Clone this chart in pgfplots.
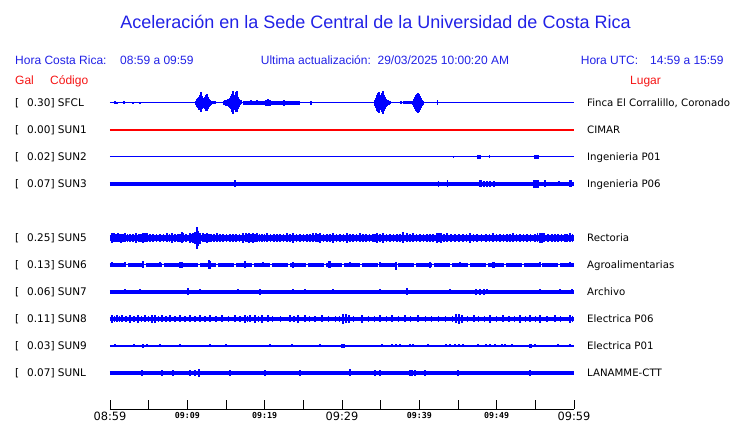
\documentclass[border=0pt]{standalone}
\usepackage{pgfplots}
\pgfplotsset{compat=1.18}
\usepackage{pgfplotstable}
\usepackage{fontspec}
\setmainfont{DejaVu Sans}
\newfontfamily\hdr{Liberation Sans}
\setmonofont{DejaVu Sans Mono}
\definecolor{hblue}{RGB}{33,33,230}
\definecolor{tblue}{RGB}{0,0,255}
\definecolor{hred}{RGB}{245,20,20}
\definecolor{lred}{RGB}{255,0,0}

% spikes: t = minutes after 08:59, u/d = amplitude up/down (px)
\pgfplotstableread{
t u d
0.65 1.5 1.5
0.91 1 1
1.81 1.5 1.5
2.97 1 1
3.88 1 1
11.12 2 2
11.25 4 4
11.38 5 5
11.51 6 7
11.64 8 6
11.77 11 9
11.90 7 6
12.03 5 5
12.16 4 5
12.28 6 6
12.41 8 8
12.54 9 8
12.67 6 6
12.80 4 4
12.93 3 3
13.06 2 2
13.19 1.5 1.5
13.32 1.5 1.5
13.45 1.5 1
13.58 1.5 1
14.74 2 2
14.87 2.5 2.5
15.00 3 3
15.13 3 3
15.26 3.5 3.5
15.39 4 4
15.52 5 5
15.65 7 6
15.78 9 9
15.91 12 11
16.03 7 7
16.16 8 7
16.29 11 9
16.42 12 9
16.55 6 6
16.68 4 4
16.81 2 2
16.94 2.5 1.5
18.23 2.5 2.5
19.01 2.5 2.5
20.17 3 3
20.30 3 3
20.43 3.5 3
20.56 3 3
20.69 3 3
22.50 3 3
25.99 2 2
34.27 3 3
34.40 5 5
34.53 8 8
34.66 10 9
34.79 11 10
34.91 8 7
35.04 7 7
35.17 10 9
35.30 12 11
35.43 8 8
35.56 6 6
35.69 4 4
35.82 3 3
35.95 2.5 2.5
36.08 2 2
36.21 1.5 1.5
37.63 1.5 1.5
39.18 2 2
39.31 4 4
39.44 6 6
39.57 8 8
39.70 9 9
39.83 10 10
39.96 9 9
40.09 7 7
40.22 5 5
40.34 3 3
40.47 2 2
42.37 2.5 2.5
}\sfcl

\pgfplotstableread{
t u d
44.39 1 1
47.59 2 2
47.72 2 2
47.84 2 2
49.05 1.5 1.5
54.96 2 2
55.09 2 2
55.22 2 2
55.35 2 2
}\suntwo

\pgfplotstableread{
t u d
16.16 3.5 3.5
42.45 3 3
43.67 3.5 3.5
47.84 3.5 3.5
47.97 3.5 3.5
48.36 3 3
48.75 3 3
49.14 3 3
49.66 3 3
54.83 4 4
54.96 4 4
55.09 4 4
55.22 4 4
55.35 4 4
56.25 3.5 3.5
58.06 2.5 2.5
59.48 3.5 3.5
59.61 3.5 3.5
}\sunthree

\pgfplotstableread{
t u d
0.26 5 5
0.52 4.5 4
1.03 5 4.5
1.42 4 5
1.94 5 4
2.59 4 4
3.36 4.5 5
4.27 5 5
4.53 4.5 4.5
4.78 5 4
5.56 4 4.5
6.47 4 4
7.37 4.5 4
8.02 5 5
8.79 4 4.5
9.31 5.5 5
9.44 5 4.5
10.34 4.5 5
10.73 5 5
10.99 6 6
11.25 10.5 11
11.38 7 8
11.64 5 6
12.03 4.5 4.5
12.54 5 5
13.06 4 4
13.84 4.5 4.5
14.61 4 4
15.52 4 4
16.29 4 4.5
17.20 5 5
17.59 5 4.5
17.97 4.5 5
18.49 5 5
19.01 4.5 4
19.66 4 4
20.30 4.5 4.5
21.21 4 4
21.98 4 4.5
22.89 5 4.5
23.66 4.5 5
24.57 4 4
25.47 4 4
26.25 4.5 4.5
26.64 5 4.5
27.15 4.5 5
28.06 4 4
28.84 5 5
29.74 4 4
30.65 4.5 5
31.42 4 4
32.33 4.5 4
33.10 4 4
34.01 4 4.5
34.53 5 5
35.30 5 5
36.21 4 4
37.11 4 4
37.89 5.5 5
38.40 4.5 4.5
39.18 4.5 4
40.09 4 4
40.99 4 4
41.77 4 4
42.28 5 5
42.54 4.5 4.5
42.80 4.5 5
43.58 4.5 4
44.61 4 4
45.65 4 4
46.55 5 5
47.46 4 4
48.62 4 4
49.53 4.5 4
50.43 4 4
51.34 4 4
52.11 4.5 4
53.02 4 4
53.92 4 4.5
55.60 5 5
55.86 5 5
56.12 4.5 4.5
57.15 4 4
57.93 4 4
58.84 4 4
59.48 4.5 4.5
0.39 4 3.8
0.78 3.8 4
1.23 4 4
1.68 3.8 4
2.26 4 3.8
2.97 4 4
3.75 3.8 4
4.00 4 4
5.17 4 3.8
6.01 3.8 4
6.92 4 4
7.69 4 3.8
8.40 3.8 4
9.05 4 4
9.82 4 4
10.53 3.8 4
12.28 4 4
12.80 4 3.8
13.45 4 4
14.22 3.8 4
15.07 4 4
15.91 4 4
16.75 4 3.8
17.78 4 4
18.23 4 4
18.75 3.8 4
19.33 4 4
20.00 4 3.8
20.75 4 4
21.60 3.8 4
22.44 4 4
23.28 4 4
24.11 4 3.8
25.02 3.8 4
25.86 4 4
26.90 4 4
27.60 4 3.8
28.45 3.8 4
29.29 4 4
30.19 4 4
31.03 4 3.8
31.87 4 4
32.72 3.8 4
33.56 4 4
34.27 4 4
34.91 4 4
35.75 3.8 4
36.66 4 4
37.50 4 3.8
38.79 4 4
39.63 3.8 4
40.54 4 4
41.38 4 4
43.19 4 3.8
44.09 4 4
45.13 4 4
46.10 3.8 4
47.00 4 4
48.04 4 4
49.07 4 3.8
49.98 4 4
50.88 3.8 4
51.72 4 4
52.56 4 4
53.47 3.8 4
54.37 4 4
54.95 4 4
55.30 4.5 4.5
56.64 4 4
57.54 4 3.8
58.38 3.8 4
59.10 4 4
59.80 4 4
}\sunfive

\pgfplotstableread{
t u d
0.26 2.5 2.5
1.94 2.5 2.5
4.27 3.5 3
6.47 2.5 2.5
9.05 3 3
9.31 3 3
12.80 4.5 4.5
12.93 4 4
17.46 3.5 3
19.78 2.5 2.5
23.66 3 3
28.32 3.5 3.5
28.45 3.5 3
31.03 2.5 2.5
34.91 2.5 2.5
36.98 3 5.5
41.38 3 3
45.26 2.5 2.5
49.53 3 3
49.66 3 3
55.60 2.5 2.5
59.48 2.5 2.5
}\sunsix

\pgfplotstableread{
t u d
1.94 2.5 2.5
3.88 2.5 2.5
10.09 3.5 3.5
11.64 2.5 2.5
16.55 2.5 2.5
19.40 3 3
23.66 2.5 2.5
25.22 2.5 2.5
28.84 2.5 2.5
34.91 2.5 2.5
38.40 3.5 3.5
43.97 2.5 2.5
47.33 3 3
47.84 3 3
48.36 3 3
48.75 2.5 2.5
55.60 2.5 2.5
58.19 2.5 2.5
59.74 2.5 2.5
}\sunseven

\pgfplotstableread{
t u d
0.26 4 4
0.91 3.5 3.5
1.55 4 3.5
2.59 3.5 4
3.62 4 4
4.53 3.5 3.5
5.43 4 4
5.82 4 4.5
6.72 3.5 3.5
7.76 3.5 3.5
9.05 3.5 3.5
10.34 3.5 3.5
11.64 3.5 3.5
12.93 3.5 3.5
14.48 3.5 3.5
16.16 3.5 3.5
17.46 4 4
18.10 4 3.5
18.75 4 4
19.66 4 4
20.43 3.5 3.5
23.28 3.5 3.5
24.31 3.5 4
25.22 3.5 3.5
27.41 3.5 3.5
30.13 5 5
30.52 4.5 4.5
30.90 4 4
32.59 4 4
34.91 3.5 3.5
36.47 3.5 3.5
38.15 3.5 3.5
39.83 3.5 3.5
44.74 4.5 4.5
45.13 5 5
45.52 4 4
47.07 3.5 3.5
49.14 4 4
50.82 3.5 3.5
53.02 4 4
54.31 3.5 3.5
55.60 4 4
57.54 3.5 3.5
59.48 4 4
0.58 3.2 3.2
1.23 3.2 3.2
2.07 3.2 3.2
3.10 3.2 3.2
4.08 3.2 3.2
4.98 3.2 3.2
6.27 3.2 3.2
7.24 3.2 3.2
8.40 3.2 3.2
9.70 3.2 3.2
10.99 3.2 3.2
12.28 3.2 3.2
13.71 3.2 3.2
15.32 3.2 3.2
16.81 3.2 3.2
17.78 3.2 3.2
19.20 3.2 3.2
21.00 3.2 3.2
22.00 3.2 3.2
23.80 3.2 3.2
25.80 3.2 3.2
26.50 3.2 3.2
28.30 3.2 3.2
29.20 3.2 3.2
29.70 3.2 3.2
31.50 3.2 3.2
33.40 3.2 3.2
34.20 3.2 3.2
35.70 3.2 3.2
37.30 3.2 3.2
38.90 3.2 3.2
40.80 3.2 3.2
41.60 3.2 3.2
42.50 3.2 3.2
43.40 3.2 3.2
44.30 3.2 3.2
46.20 3.2 3.2
47.60 3.2 3.2
48.40 3.2 3.2
50.00 3.2 3.2
51.60 3.2 3.2
52.30 3.2 3.2
53.70 3.2 3.2
55.00 3.2 3.2
56.50 3.2 3.2
58.20 3.2 3.2
59.80 3.2 3.2
}\suneight

\pgfplotstableread{
t u d
0.65 1.5 1.5
3.10 1.5 1.5
4.27 2 2
4.78 1.5 1.5
6.47 1.5 1.5
9.05 1.5 1.5
12.93 1.5 1.5
15.00 1.5 1.5
20.69 1.5 1.5
23.53 1.5 1.5
27.15 1.5 1.5
30.00 2 2
30.26 2 2
35.17 1.5 1.5
36.47 1.5 1.5
36.98 1.5 1.5
37.50 1.5 1.5
38.79 1.5 1.5
39.18 1.5 1.5
41.12 1.5 1.5
43.45 1.5 1.5
43.97 1.5 1.5
44.61 1.5 1.5
45.13 1.5 1.5
45.65 1.5 1.5
47.59 1.5 1.5
48.62 1.5 1.5
49.14 1.5 1.5
49.79 1.5 1.5
50.69 1.5 1.5
51.08 1.5 1.5
51.98 1.5 1.5
54.31 2 2
54.44 2 2
54.96 1.5 1.5
57.93 1.5 1.5
59.48 1.5 1.5
}\sunnine

\pgfplotstableread{
t u d
4.14 3 3
6.72 2.7 2.7
8.15 2.7 2.7
10.34 2.7 2.7
10.99 3 3
11.51 4 4
15.52 2.7 2.7
20.04 2.7 2.7
24.57 2.7 2.7
31.03 3.5 3.5
34.27 3 3
34.91 2.7 2.7
38.79 3 3
39.05 3 3
39.44 3 3
40.73 2.7 2.7
45.00 3 3
54.31 3 3
}\sunl

\begin{document}
\begin{tikzpicture}
\begin{axis}[
  scale only axis, width=464pt, height=409pt,
  xmin=0, xmax=60, ymin=-409, ymax=0,
  axis x line=bottom, axis y line=none,
  x axis line style={-, line width=0.9pt, black},
  xtick={0,5,...,60},
  xticklabels={{\fontsize{11.4}{12}\selectfont 08:59},{},
    {\ttfamily\bfseries\fontsize{8.3}{9}\selectfont 09:09},{},
    {\ttfamily\bfseries\fontsize{8.3}{9}\selectfont 09:19},{},
    {\fontsize{11.4}{12}\selectfont 09:29},{},
    {\ttfamily\bfseries\fontsize{8.3}{9}\selectfont 09:39},{},
    {\ttfamily\bfseries\fontsize{8.3}{9}\selectfont 09:49},{},
    {\fontsize{11.4}{12}\selectfont 09:59}},
  xtick align=inside, major tick length=9pt,
  tick style={black, line width=0.9pt},
  xticklabel style={anchor=north, inner sep=0pt},
  xticklabel shift=2.7pt,
  clip=false,
  spk/.style={draw=none, mark=none, error bars/.cd, y dir=both, y explicit,
    error mark=none, error bar style={line width=1.15pt, draw=tblue, solid}},
]
\coordinate (O) at (axis cs:0,0);
% SFCL
\addplot[tblue, line width=1pt] coordinates {(0,-103) (60,-103)};
\addplot[tblue, line width=3.6pt] coordinates {(17.20,-103) (24.57,-103)};
\addplot[tblue, line width=3pt] coordinates {(37.89,-103) (39.18,-103)};
\addplot[spk] table[x=t, y expr=-103, y error plus=u, y error minus=d] {\sfcl};
% SUN1
\addplot[lred, line width=1.3pt] coordinates {(0,-130) (60,-130)};
% SUN2
\addplot[tblue, line width=1pt] coordinates {(0,-157) (60,-157)};
\addplot[spk] table[x=t, y expr=-157, y error plus=u, y error minus=d] {\suntwo};
% SUN3
\addplot[tblue, line width=3.7pt] coordinates {(0,-184) (60,-184)};
\addplot[spk] table[x=t, y expr=-184, y error plus=u, y error minus=d] {\sunthree};
% SUN5
\addplot[tblue, line width=6.3pt] coordinates {(0,-238) (60,-238)};
\addplot[spk] table[x=t, y expr=-238, y error plus=u, y error minus=d] {\sunfive};
% SUN6
\addplot[tblue, line width=1pt] coordinates {(0,-265) (60,-265)};
\addplot[tblue, line width=3.3pt, dash pattern=on 16pt off 2pt] coordinates {(0,-265) (60,-265)};
\addplot[spk] table[x=t, y expr=-265, y error plus=u, y error minus=d] {\sunsix};
% SUN7
\addplot[tblue, line width=3.4pt] coordinates {(0,-292) (60,-292)};
\addplot[spk] table[x=t, y expr=-292, y error plus=u, y error minus=d] {\sunseven};
% SUN8
\addplot[tblue, line width=4.4pt] coordinates {(0,-319) (60,-319)};
\addplot[spk] table[x=t, y expr=-319, y error plus=u, y error minus=d] {\suneight};
% SUN9
\addplot[tblue, line width=1.4pt] coordinates {(0,-346) (60,-346)};
\addplot[spk] table[x=t, y expr=-346, y error plus=u, y error minus=d] {\sunnine};
% SUNL
\addplot[tblue, line width=3.8pt] coordinates {(0,-373) (60,-373)};
\addplot[spk] table[x=t, y expr=-373, y error plus=u, y error minus=d] {\sunl};
\end{axis}

\begin{scope}[shift={([xshift=-110pt]O)}, x=1pt, y=-1pt]
\node[hblue, font=\hdr\fontsize{18}{20}\selectfont, anchor=base, inner sep=0pt] at (375.5,29) {Aceleración en la Sede Central de la Universidad de Costa Rica};
\begin{scope}[every node/.style={anchor=base west, inner sep=0pt, font=\hdr\fontsize{12}{14}\selectfont}]
\node[hblue] at (15,65) {Hora Costa Rica:};
\node[hblue] at (120,65) {08:59 a 09:59};
\node[hblue] at (260.7,65) {Ultima actualización:\ \ 29/03/2025 10:00:20 AM};
\node[hblue] at (580.7,65) {Hora UTC:};
\node[hblue] at (650,65) {14:59 a 15:59};
\node[hred] at (15,85) {Gal};
\node[hred] at (50,85) {Código};
\node[hred] at (630,85) {Lugar};
\end{scope}
\begin{scope}[every node/.style={anchor=base west, inner sep=0pt, font=\fontsize{10.5}{12}\selectfont}]
\foreach \yy/\g/\c in {103/0.30/SFCL,130/0.00/SUN1,157/0.02/SUN2,184/0.07/SUN3,238/0.25/SUN5,265/0.13/SUN6,292/0.06/SUN7,319/0.11/SUN8,346/0.03/SUN9,373/0.07/SUNL}{
  \node at (15,\yy+4) {[};
  \node at (27,\yy+4) {\g] \c};
}
\end{scope}
\begin{scope}[every node/.style={anchor=base west, inner sep=0pt, font=\fontsize{10.2}{12}\selectfont}]
\foreach \yy/\n in {103/{Finca El Corralillo, Coronado},130/CIMAR,157/Ingenieria P01,184/Ingenieria P06,238/Rectoria,265/Agroalimentarias,292/Archivo,319/Electrica P06,346/Electrica P01,373/LANAMME-CTT}{
  \node at (587,\yy+4) {\n};
}
\end{scope}
\pgfresetboundingbox
\path (0,0) rectangle (740,423);
\end{scope}
\end{tikzpicture}
\end{document}
